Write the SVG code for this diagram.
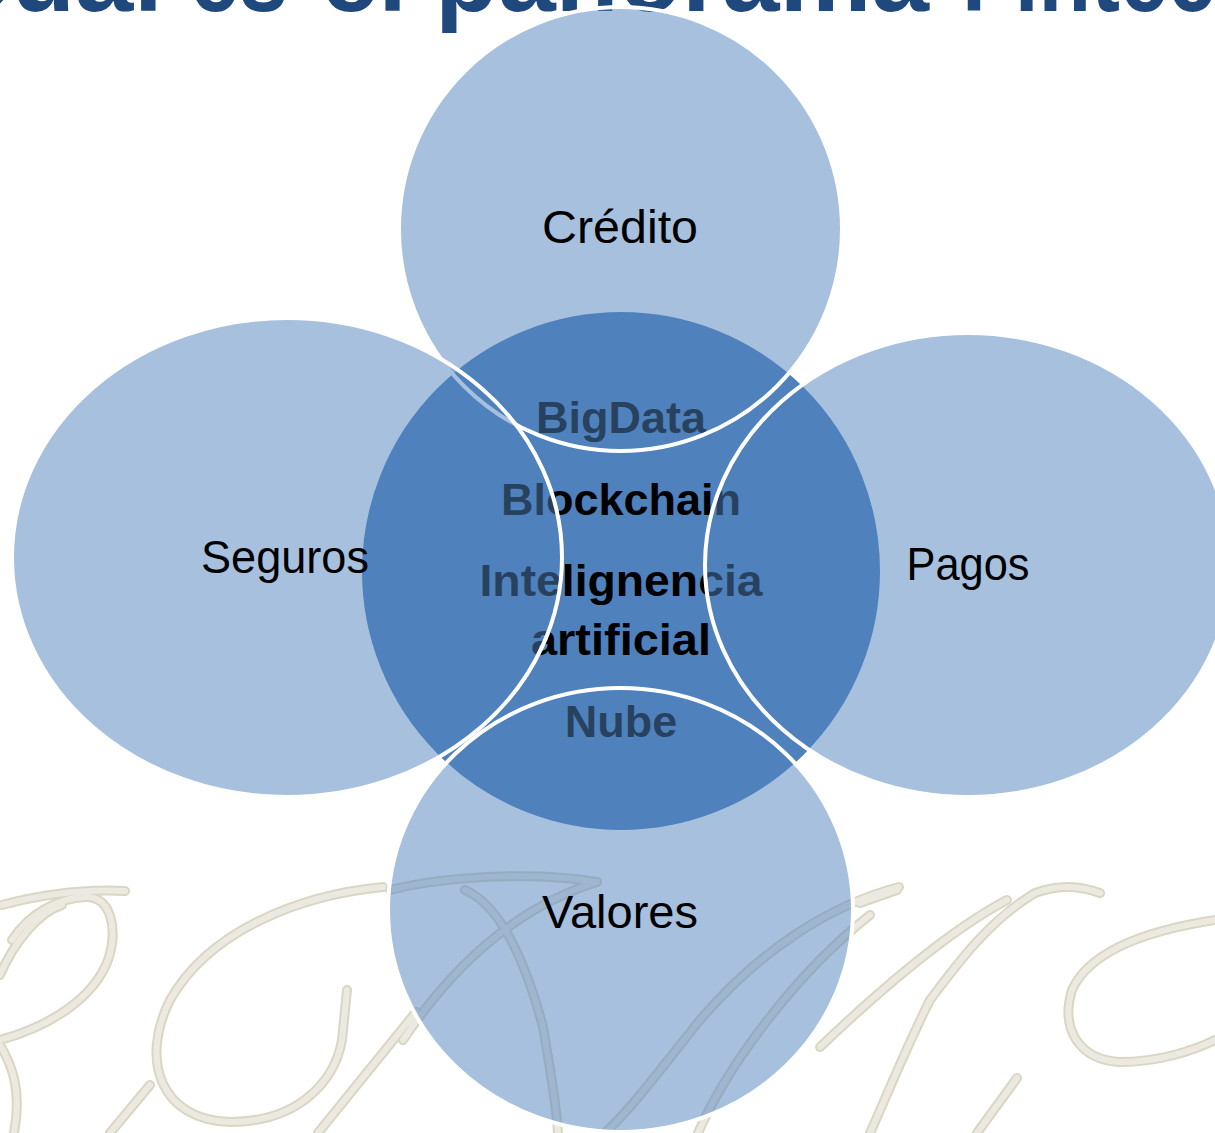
<svg xmlns="http://www.w3.org/2000/svg" xmlns:xlink="http://www.w3.org/1999/xlink" width="1215" height="1133" viewBox="0 0 1215 1133">
<style>
.title{font-family:"Liberation Sans",Arial,sans-serif;font-weight:bold;font-size:106px;fill:#1F497D}
.core{fill:#4F81BD;stroke:#FFFFFF;stroke-width:4}
.sat{fill:#4F81BD;fill-opacity:0.5;stroke:#FFFFFF;stroke-width:4}
.lbl{font-family:"Liberation Sans",Arial,sans-serif;font-size:46px;fill:#000000;text-anchor:middle}
.clbl{font-family:"Liberation Sans",Arial,sans-serif;font-weight:bold;font-size:45px;fill:#000000;text-anchor:middle}
.wm-edge{fill:none;stroke:#DAD6C4;stroke-width:10;stroke-linecap:round}
.wm-fill{fill:none;stroke:#ECEAE0;stroke-width:6;stroke-linecap:round}
</style>
<defs>
<g id="wmpaths">
<path d="M2,905 C40,895 85,889 125,891"/>
<path d="M12,940 C30,912 60,898 85,897 C112,896 118,930 108,960 C95,995 55,1025 0,1040"/>
<path d="M0,975 C15,940 40,912 62,905"/>
<path d="M0,1045 C12,1065 22,1090 14,1133"/>
<path d="M383,887 C300,895 210,930 170,1000 C140,1060 160,1120 230,1122 C300,1122 335,1080 342,1040 L347,990"/>
<path d="M416,1012 L318,1133"/>
<path d="M110,1133 L150,1085"/>
<path d="M390,890 C450,875 540,872 597,882"/>
<path d="M597,882 C540,900 470,940 403,1040"/>
<path d="M465,890 C500,905 525,960 543,1027 C550,1070 556,1100 558,1133"/>
<path d="M899,887 C830,905 760,950 700,1020 C660,1070 630,1110 605,1133"/>
<path d="M870,915 C800,970 730,1060 698,1133"/>
<path d="M1100,893 C1080,886 1060,884 1035,893 C990,920 960,960 930,1000 C905,1050 885,1100 870,1133"/>
<path d="M1007,900 C950,930 880,990 820,1047"/>
<path d="M897,890 L860,903"/>
<path d="M1017,1078 L977,1133"/>
<path d="M1215,920 C1150,930 1090,950 1072,990 C1060,1030 1080,1060 1120,1062 C1160,1062 1195,1050 1215,1040"/>
</g>
</defs>
<rect x="0" y="0" width="1215" height="1133" fill="#FFFFFF"/>
<g id="watermark">
<use xlink:href="#wmpaths" class="wm-edge"/>
<use xlink:href="#wmpaths" class="wm-fill"/>
</g>
<g id="title">
<text class="title" y="11"><tspan x="-129" textLength="292" lengthAdjust="spacingAndGlyphs">¿Cuál</tspan><tspan x="190" textLength="98" lengthAdjust="spacingAndGlyphs">es</tspan><tspan x="321" textLength="86" lengthAdjust="spacingAndGlyphs">el</tspan><tspan x="435" textLength="494" lengthAdjust="spacingAndGlyphs">panorama</tspan><tspan x="962" textLength="359" lengthAdjust="spacingAndGlyphs">Fintech?</tspan></text>
</g>
<g id="node-center">
<circle class="core" cx="621" cy="571" r="261"/>
<text class="clbl" x="621" y="433">BigData</text>
<text class="clbl" x="621" y="515">Blockchain</text>
<text class="clbl" x="621" y="596" textLength="283" lengthAdjust="spacingAndGlyphs">Intelignencia</text>
<text class="clbl" x="621" y="655" textLength="180" lengthAdjust="spacingAndGlyphs">artificial</text>
<text class="clbl" x="621" y="737">Nube</text>
</g>
<g id="node-credito">
<ellipse class="sat" cx="620.5" cy="229" rx="221.5" ry="222"/>
<text class="lbl" x="620" y="243" textLength="156" lengthAdjust="spacingAndGlyphs">Crédito</text>
</g>
<g id="node-seguros">
<ellipse class="sat" cx="287" cy="557.5" rx="275" ry="239.5"/>
<text class="lbl" x="285" y="573" textLength="168" lengthAdjust="spacingAndGlyphs">Seguros</text>
</g>
<g id="node-pagos">
<ellipse class="sat" cx="968" cy="565" rx="263" ry="232"/>
<text class="lbl" x="968" y="580" textLength="123" lengthAdjust="spacingAndGlyphs">Pagos</text>
</g>
<g id="node-valores">
<ellipse class="sat" cx="620.5" cy="910" rx="232.5" ry="222"/>
<text class="lbl" x="620" y="928" textLength="156" lengthAdjust="spacingAndGlyphs">Valores</text>
</g>
</svg>
